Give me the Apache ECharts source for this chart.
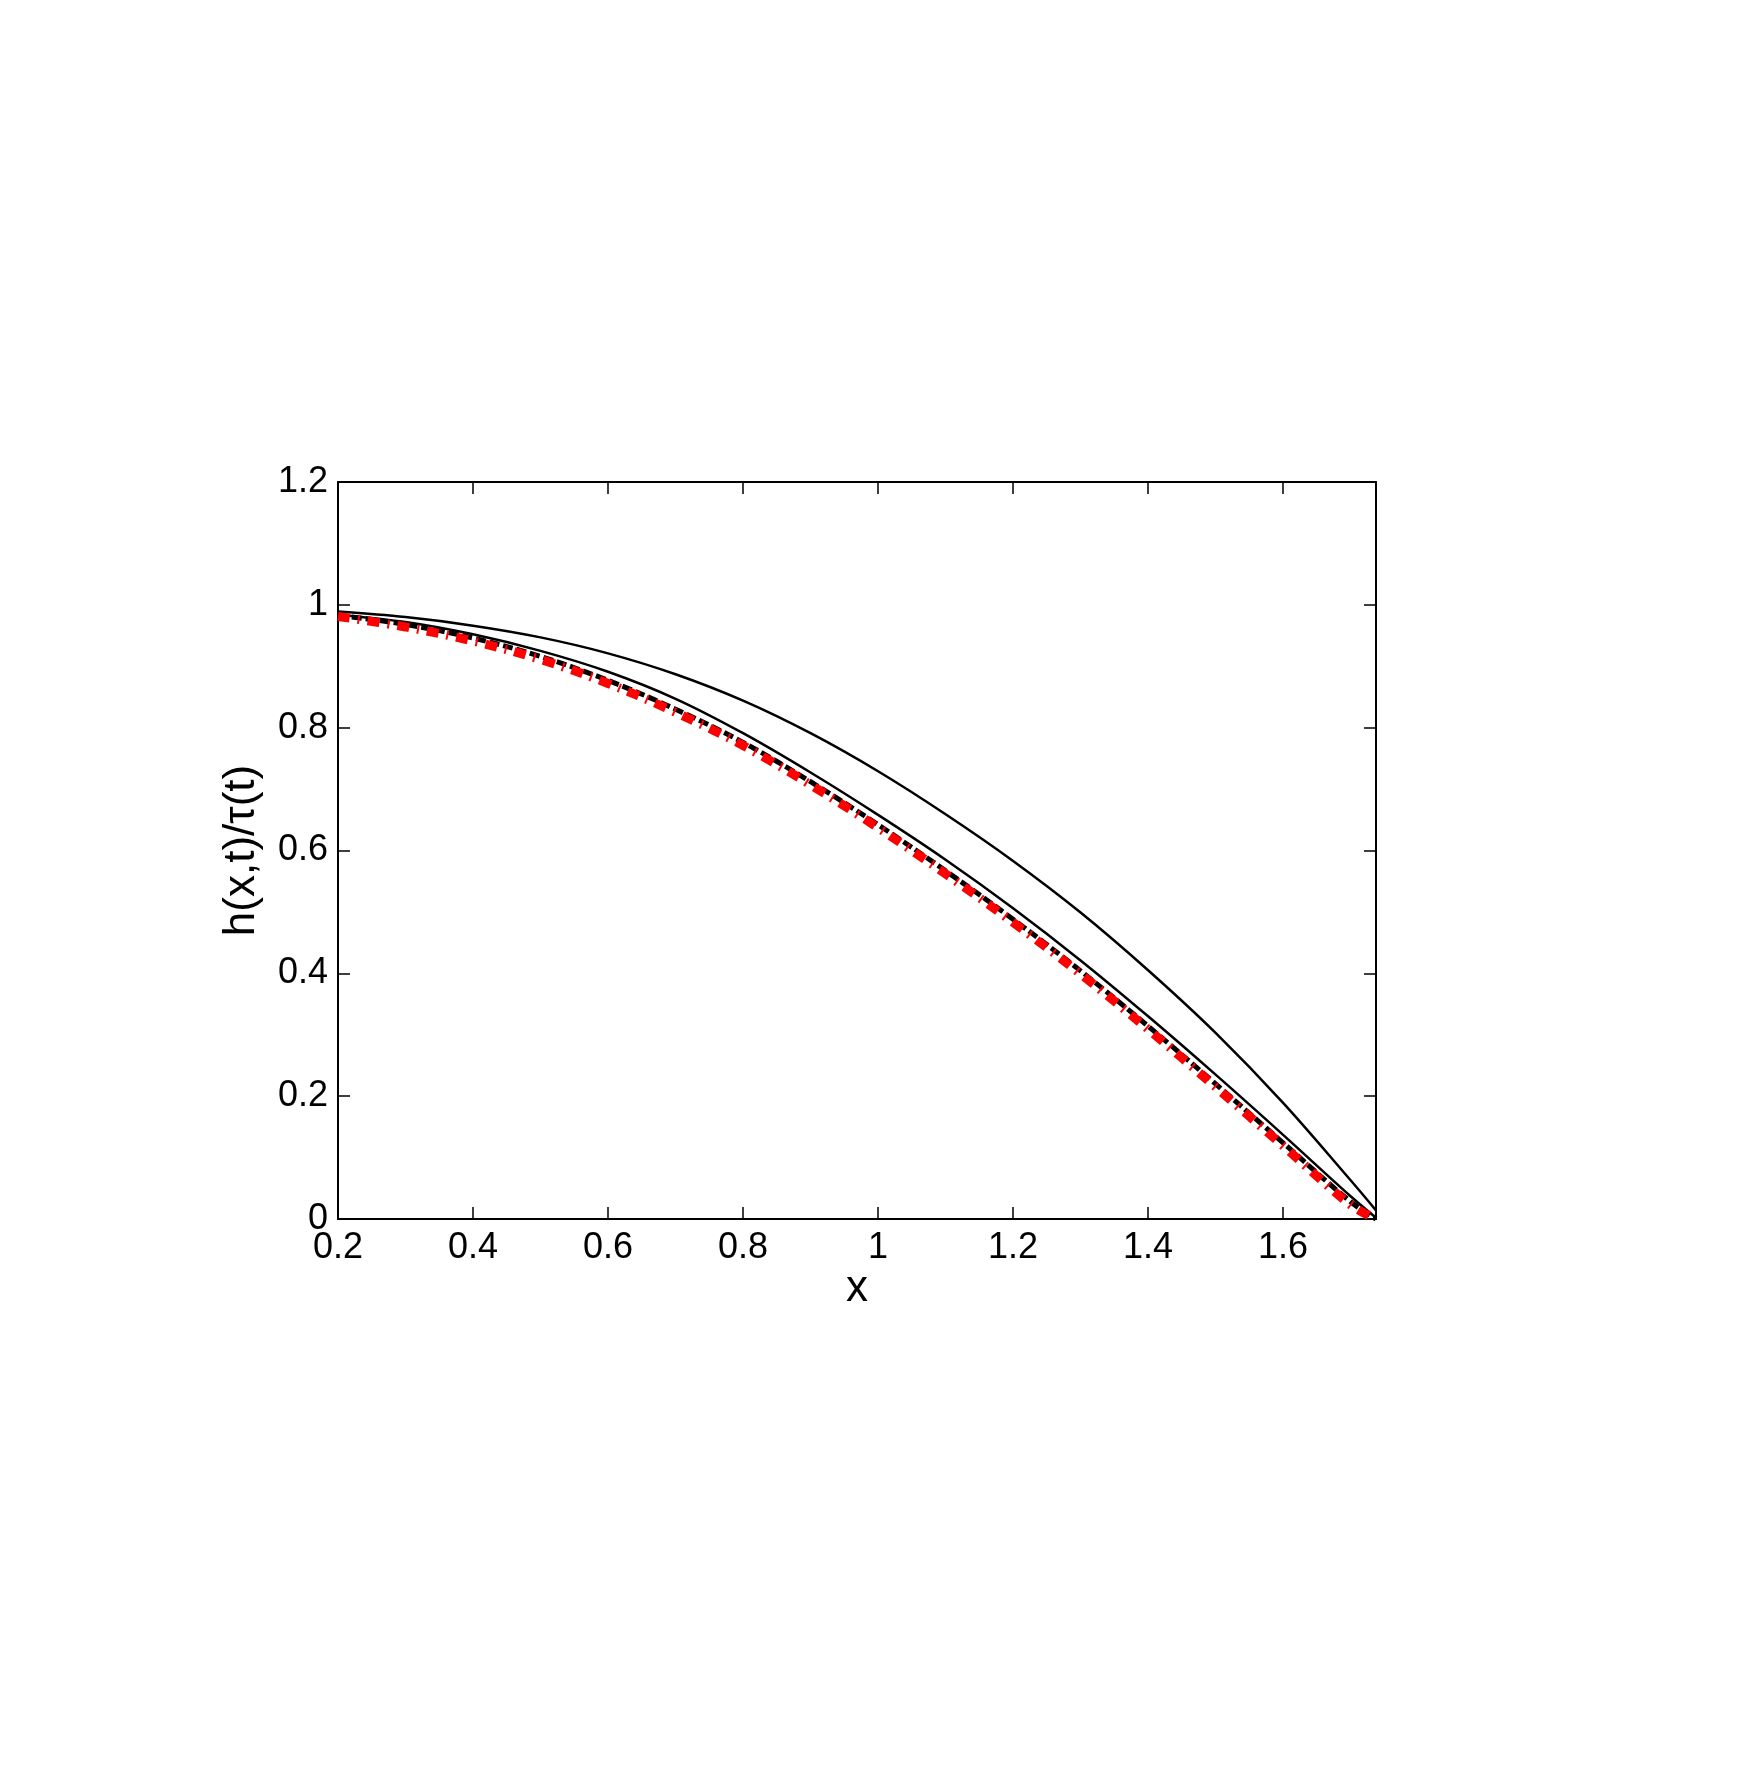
<!DOCTYPE html>
<html>
<head>
<meta charset="utf-8">
<script src="https://cdn.jsdelivr.net/npm/echarts@6/dist/echarts.min.js"></script>
<style>
html,body{margin:0;padding:0;background:#fff;}
#chart{width:1746px;height:1768px;}
</style>
</head>
<body>
<div id="chart"></div>
<script>
const xValues = [0.2,0.3,0.4,0.5,0.6,0.7,0.8,0.9,1.0,1.1,1.2,1.3,1.4,1.5,1.6,1.7,1.7376];
const curveA = [0.989,0.980,0.966,0.947,0.921,0.887,0.844,0.791,0.729,0.659,0.583,0.499,0.405,0.303,0.189,0.063,0.014];
const curveB = [0.984,0.972,0.952,0.925,0.891,0.847,0.791,0.727,0.658,0.585,0.506,0.421,0.330,0.235,0.137,0.037,0.002];
const curveC = [0.983,0.968,0.946,0.916,0.877,0.830,0.776,0.712,0.642,0.567,0.488,0.404,0.314,0.220,0.124,0.028,0.000];
const curveRed = [0.981,0.964,0.941,0.911,0.872,0.825,0.771,0.707,0.637,0.562,0.483,0.399,0.309,0.215,0.119,0.023,0.000];
const xTicks = [0.2,0.4,0.6,0.8,1,1.2,1.4,1.6];
const yTicks = [0,0.2,0.4,0.6,0.8,1,1.2];
const xLabel = 'x';
const yLabel = 'h(x,t)/\u03c4(t)';

const pairs = arr => xValues.map((x,i)=>[x,arr[i]]);
const FONT = '"Liberation Sans", Arial, sans-serif';
const chart = echarts.init(document.getElementById('chart'), null, {renderer:'canvas'});
const axisCommon = {
  type:'value',
  axisLine:{show:true,onZero:false,lineStyle:{color:'#000',width:2}},
  axisTick:{show:true,inside:true,length:12,lineStyle:{color:'#000',width:1.5}},
  splitLine:{show:false},
  minorTick:{show:false}
};
const xMin = xValues[0], xMax = xValues[xValues.length-1];
chart.setOption({
  animation:false,
  backgroundColor:'#fff',
  grid:{left:338,top:482,right:370,bottom:549,containLabel:false,outerBoundsMode:'none'},
  xAxis:[
    Object.assign({},axisCommon,{position:'bottom',min:xMin,max:xMax,interval:0.2,
      axisLabel:{show:true,color:'#000',fontSize:36,fontFamily:FONT,margin:11,showMaxLabel:false,
        formatter:v=>String(+v.toFixed(2))},
      name:xLabel,nameLocation:'middle',nameGap:47,
      nameTextStyle:{color:'#000',fontSize:44,fontFamily:FONT}}),
    Object.assign({},axisCommon,{position:'top',min:xMin,max:xMax,interval:0.2,axisLabel:{show:false}})
  ],
  yAxis:[
    Object.assign({},axisCommon,{position:'left',min:0,max:1.2,interval:0.2,
      axisLabel:{show:true,color:'#000',fontSize:36,fontFamily:FONT,margin:10,
        formatter:v=>String(+v.toFixed(2))},
      name:yLabel,nameLocation:'middle',nameGap:74,nameRotate:90,
      nameTextStyle:{color:'#000',fontSize:44,fontFamily:FONT}}),
    Object.assign({},axisCommon,{position:'right',min:0,max:1.2,interval:0.2,axisLabel:{show:false}})
  ],
  series:[
    {type:'line',data:pairs(curveA),smooth:0.35,showSymbol:false,
      lineStyle:{color:'#000',width:2.5}},
    {type:'line',data:pairs(curveB),smooth:0.35,showSymbol:false,
      lineStyle:{color:'#000',width:2.5}},
    {type:'line',data:pairs(curveC),smooth:0.35,showSymbol:false,
      lineStyle:{color:'#000',width:5,type:[10,4]}},
    {type:'line',data:pairs(curveRed),smooth:0.35,showSymbol:false,
      lineStyle:{color:'#ff0000',width:9,type:[12,8,2,8]}}
  ]
});
</script>
</body>
</html>
